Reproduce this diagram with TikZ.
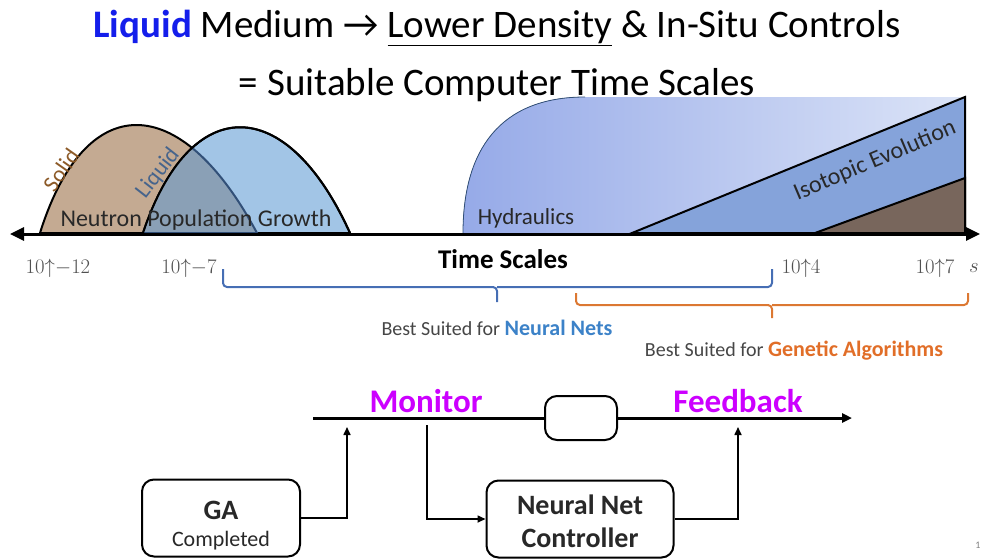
\documentclass[tikz,border=0pt]{standalone}
\usepackage{fontspec}
\setmainfont{Carlito}
\usetikzlibrary{arrows.meta,calc}

\definecolor{titleblue}{RGB}{20,30,235}
\definecolor{solidfill}{RGB}{196,170,146}
\definecolor{liquidfill}{RGB}{162,197,230}
\definecolor{overlapfill}{RGB}{138,160,182}
\definecolor{overlapline}{RGB}{50,80,120}
\definecolor{solidtext}{RGB}{140,90,40}
\definecolor{liquidtext}{RGB}{70,100,140}
\definecolor{hydleft}{RGB}{150,170,232}
\definecolor{hydright}{RGB}{220,228,247}
\definecolor{isofill}{RGB}{133,163,218}
\definecolor{rockfill}{RGB}{120,102,92}
\definecolor{tickgray}{RGB}{80,80,80}
\definecolor{labgray}{RGB}{70,70,70}
\definecolor{nnbrace}{RGB}{70,110,180}
\definecolor{nnblue}{RGB}{60,130,200}
\definecolor{gabrace}{RGB}{220,120,50}
\definecolor{gaorange}{RGB}{225,110,40}
\definecolor{signal}{RGB}{204,0,255}
\definecolor{darktext}{RGB}{40,40,40}

\newcommand{\fsz}[1]{\fontsize{#1}{#1}\selectfont}

\begin{document}
\begin{tikzpicture}[x=1pt,y=-1pt,
  box/.style={draw, line width=2pt, rounded corners=12pt, inner sep=0pt},
  boxtext/.style={text=darktext, inner sep=0pt},
  link/.style={line width=1.6pt, -{Triangle[length=8pt,width=7pt]}},
  tick/.style={text=tickgray, font=\fsz{22}},
  brace/.style={line width=2pt, rounded corners=4pt},
]
\useasboundingbox (0,0) rectangle (983,558);

% title
\node (title1) at (497,28) {\fsz{39}\textcolor{titleblue}{\textbf{Liquid}} Medium → \underline{Lower Density} \& In-Situ Controls};
\node (title2) at (497,85) {\fsz{39}= Suitable Computer Time Scales};

% time scale shapes
\fill[left color=hydleft, right color=hydright] (463,233) .. controls (463,150) and (500,97) .. (585,97) -- (965,97) -- (965,233) -- cycle;
\draw[line width=0.8pt, overlapline] (463,233) .. controls (463,150) and (500,97) .. (585,97);
\filldraw[fill=isofill, line width=2pt] (632,233) -- (965,97) -- (965,233) -- cycle;
\filldraw[fill=rockfill, line width=2pt] (815,233) -- (965,178) -- (965,233) -- cycle;

\filldraw[fill=solidfill, line width=2pt] (40,233) .. controls (85,89) and (180,89) .. (257,233) -- cycle;
\filldraw[fill=liquidfill, line width=2pt] (143,233) .. controls (190,92) and (286,92) .. (350,233) -- cycle;
\begin{scope}
  \clip (143,233) .. controls (190,92) and (286,92) .. (350,233) -- cycle;
  \filldraw[fill=overlapfill, draw=overlapline, line width=2pt] (40,233) .. controls (85,89) and (180,89) .. (257,233) -- cycle;
\end{scope}
\draw[line width=2pt] (143,233) .. controls (190,92) and (286,92) .. (350,233);

\node[text=solidtext, rotate=55] (solidlab) at (61,170) {\fsz{23}Solid};
\node[text=liquidtext, rotate=52] (liquidlab) at (158,173) {\fsz{23}Liquid};
\node[text=darktext] (neutron) at (196,220) {\fsz{24}Neutron Population Growth};
\node[text=darktext] (hydr) at (526,218) {\fsz{23}Hydraulics};
\node[text=darktext, rotate=23] (isotope) at (875,161) {\fsz{24}Isotopic Evolution};

% axis
\coordinate (axl) at (10,234);
\coordinate (axr) at (980,234);
\draw[line width=3pt, {Triangle[length=14pt,width=13pt]}-{Triangle[length=14pt,width=13pt]}] (axl) -- (axr);

\node[tick] (t12) at (58,268) {$10{\uparrow}{-}12$};
\node[tick] (t7) at (189,268) {$10{\uparrow}{-}7$};
\node[tick] (t4) at (801,268) {$10{\uparrow}4$};
\node[tick] (t17) at (935,268) {$10{\uparrow}7$};
\node[tick] (units) at (974,268) {$s$};
\node (scales) at (503,259) {\fsz{27}\bfseries Time Scales};

% braces
\draw[brace, nnbrace] (223,269) |- (497,287) -- (497,302);
\draw[brace, nnbrace] (772,269) |- (497,287);
\draw[brace, gabrace] (576,293) |- (772,305) -- (772,318);
\draw[brace, gabrace] (968,293) |- (772,305);
\node (bestnn) at (497,328) {\fsz{20}\textcolor{labgray}{Best Suited for} \textcolor{nnblue}{\fsz{22}\textbf{Neural Nets}}};
\node (bestga) at (794,351) {\fsz{20}\textcolor{labgray}{Best Suited for} \textcolor{gaorange}{\fsz{22}\textbf{Genetic Algorithms}}};

% control loop
\coordinate (mstart) at (313,418);
\coordinate (mend) at (852,418);
\node[box, minimum width=72pt, minimum height=44pt] (delay) at (581,418) {};
\draw[line width=3pt] (mstart) -- (delay);
\draw[line width=3pt, -{Triangle[length=10pt,width=9pt]}] (delay) -- (mend);
\node[text=signal] (monitor) at (426,401) {\fsz{33}\bfseries Monitor};
\node[text=signal] (feedback) at (738,401) {\fsz{33}\bfseries Feedback};

\node[box, minimum width=158pt, minimum height=77pt] (ga) at (221,518) {};
\node[boxtext] (gatitle) at (221,510) {\fsz{28}\bfseries GA};
\node[boxtext] (gasub) at (221,541) {\fsz{22}Completed};
\node[box, minimum width=187pt, minimum height=77pt] (nnc) at (580,519) {};
\node[boxtext] (nntitle) at (580,505) {\fsz{28}\bfseries Neural Net};
\node[boxtext] (nnsub) at (580,538) {\fsz{28}\bfseries Controller};

\coordinate (gaup) at (347,427);
\coordinate (mdown) at (427,425);
\coordinate (fbup) at (738,427);
\draw[link] (ga.east) -| (gaup);
\draw[link] (mdown) |- (nnc.west);
\draw[link] (nnc.east) -| (fbup);

\node (pagenum) at (978,545) {\fsz{10}\textcolor{gray}{1}};
\end{tikzpicture}
\end{document}
